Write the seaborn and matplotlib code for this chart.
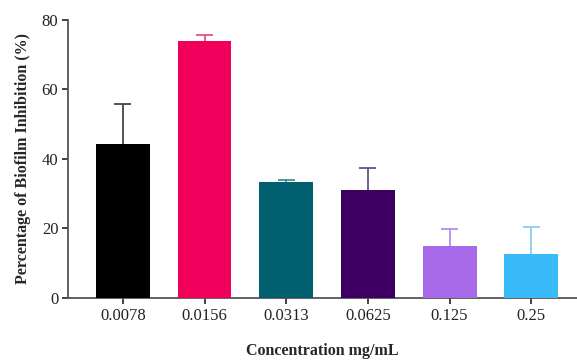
import matplotlib
matplotlib.use("Agg")
import matplotlib.pyplot as plt
import seaborn as sns
import pandas as pd

categories = ["0.0078", "0.0156", "0.0313", "0.0625", "0.125", "0.25"]
means = [44.2, 74.0, 33.3, 31.1, 14.9, 12.6]
errors = [11.5, 1.8, 0.7, 6.2, 4.8, 7.7]
colors = ["#000000", "#F0005A", "#00606F", "#3E0063", "#A76AE8", "#38BBF8"]
err_colors = ["#444444", "#E8507F", "#3F8C96", "#6A4E8C", "#B98BE8", "#8CCFF0"]

sns.set_theme(style="white")
plt.rcParams['font.family'] = ['Liberation Serif', 'DejaVu Serif']

df = pd.DataFrame({"conc": categories, "val": means})

fig = plt.figure(figsize=(5.77, 3.62), dpi=100)
ax = fig.add_axes([0.118, 0.177, 0.882, 0.768])

sns.barplot(data=df, x="conc", y="val", hue="conc", palette=colors, legend=False,
            errorbar=None, width=0.66, ax=ax, saturation=1, linewidth=0, zorder=3)

cap = 0.105
for i, (m, e) in enumerate(zip(means, errors)):
    ax.vlines(i, m, m + e, color=err_colors[i], linewidth=1.3, zorder=2)
    ax.hlines(m + e, i - cap, i + cap, color=err_colors[i], linewidth=1.3, zorder=2)

ax.set_ylim(0, 80)
ax.set_xlim(-0.67, 5.56)
ax.set_yticks([0, 20, 40, 60, 80])
ax.set_ylabel("Percentage of Biofilm Inhibition (%)", fontsize=11.5, fontweight="bold", labelpad=8)
ax.set_xlabel("Concentration mg/mL", fontsize=11.5, fontweight="bold", labelpad=14)
ax.tick_params(axis="both", labelsize=12, colors="#222222", length=4, width=1.2,
               direction="out", bottom=True, left=True, pad=3)
for s in ["top", "right"]:
    ax.spines[s].set_visible(False)
for s in ["left", "bottom"]:
    ax.spines[s].set_color("#555555")
    ax.spines[s].set_linewidth(1.3)

fig.savefig("out.png", dpi=100)
